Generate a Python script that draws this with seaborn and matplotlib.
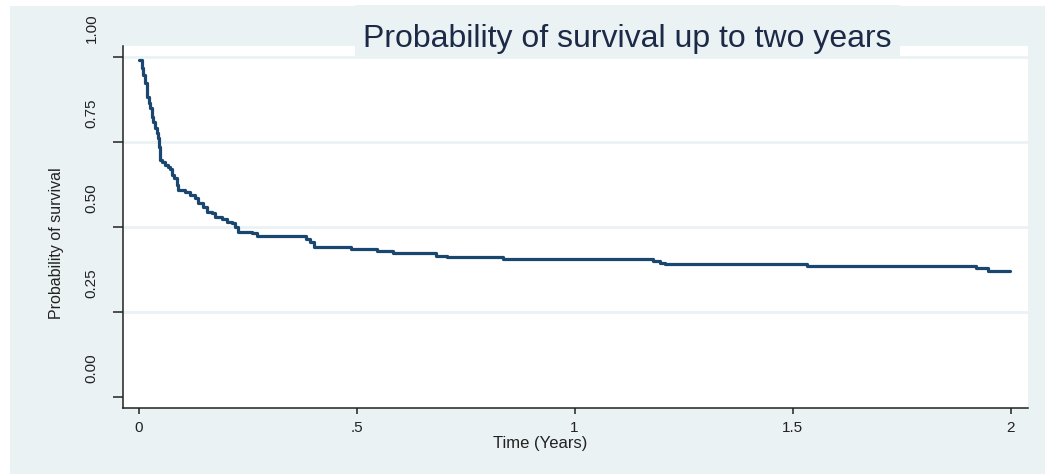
import matplotlib
matplotlib.use("Agg")
import matplotlib.pyplot as plt
import matplotlib.transforms as mtransforms
from matplotlib.patches import Rectangle
import seaborn as sns

# Kaplan-Meier estimate (time in years, survival after each drop)
time_years = [0.002, 0.007, 0.011, 0.015, 0.019, 0.023, 0.026, 0.030, 0.034, 0.038,
              0.042, 0.045, 0.048, 0.049, 0.053, 0.061, 0.068, 0.073, 0.076, 0.081,
              0.088, 0.091, 0.107, 0.118, 0.130, 0.137, 0.149, 0.156, 0.168, 0.176,
              0.191, 0.202, 0.214, 0.221, 0.228, 0.260, 0.271, 0.384, 0.393, 0.403,
              0.487, 0.548, 0.583, 0.682, 0.707, 0.837, 1.180, 1.196, 1.208, 1.534,
              1.921, 1.948, 1.999]
survival = [0.991, 0.967, 0.947, 0.923, 0.883, 0.864, 0.849, 0.824, 0.810, 0.790,
            0.776, 0.761, 0.736, 0.697, 0.691, 0.682, 0.677, 0.672, 0.653, 0.643,
            0.624, 0.609, 0.604, 0.594, 0.584, 0.570, 0.560, 0.545, 0.540, 0.529,
            0.523, 0.516, 0.511, 0.501, 0.486, 0.481, 0.473, 0.465, 0.457, 0.440,
            0.435, 0.429, 0.423, 0.416, 0.411, 0.405, 0.400, 0.395, 0.391, 0.385,
            0.379, 0.371, 0.371]

x_ticks = [0, 0.5, 1, 1.5, 2]
x_tick_labels = ["0", ".5", "1", "1.5", "2"]
y_ticks = [0, 0.25, 0.5, 0.75, 1.0]
y_tick_labels = ["0.00", "0.25", "0.50", "0.75", "1.00"]

BG = "#eaf2f3"
NAVY = "#1a476f"
INK = "#222222"

sns.set_style("white")
plt.rcParams["font.family"] = ["Liberation Sans", "DejaVu Sans"]

fig = plt.figure(figsize=(10.45, 4.74), dpi=100, facecolor="white")
fig.patches.append(Rectangle((10 / 1045, 0), 1, 1 - 6 / 474, transform=fig.transFigure,
                             facecolor=BG, edgecolor="none", zorder=-5))

ax = fig.add_axes([123 / 1045, 1 - 408 / 474, 905 / 1045, 362 / 474])
ax.set_facecolor("white")

sns.lineplot(x=time_years, y=survival, drawstyle="steps-post", color=NAVY,
             linewidth=2.3, ax=ax, sort=False)

ax.set_xlim(-0.0356, 2.040)
ax.set_ylim(-0.0324, 1.0324)

# grid lines at the upper ticks only
for yv in y_ticks[1:]:
    ax.axhline(yv, color=BG, linewidth=2, zorder=0)

ax.set_xticks(x_ticks)
ax.set_xticklabels(x_tick_labels)
ax.set_yticks(y_ticks)
ax.set_yticklabels(y_tick_labels, rotation=90, va="center")

for side in ["top", "right"]:
    ax.spines[side].set_visible(False)
for side in ["left", "bottom"]:
    ax.spines[side].set_color(INK)
    ax.spines[side].set_linewidth(1.1)

ax.tick_params(axis="x", bottom=True, direction="out", length=4, width=1.1,
               color=INK, pad=5, labelsize=11, labelcolor=INK)
ax.tick_params(axis="y", left=True, direction="out", length=7.5, width=1.1,
               color=INK, pad=10, labelsize=11, labelcolor=INK)

# y tick labels sit above their ticks in the original
offset = mtransforms.ScaledTranslation(0, 0.29, fig.dpi_scale_trans)
for lab in ax.get_yticklabels():
    lab.set_transform(lab.get_transform() + offset)

ax.set_xlabel("Time (Years)", fontsize=12, color=INK)
ax.xaxis.set_label_coords(0.461, -0.076)
ax.set_ylabel("Probability of survival", fontsize=11.5, color=INK)
ax.yaxis.set_label_coords(-0.065, 0.456)

# title with its own background box over the plot region
fig.patches.append(Rectangle((355 / 1045, 1 - 55.5 / 474), 545 / 1045, 50 / 474,
                             transform=fig.transFigure, facecolor=BG,
                             edgecolor="none", zorder=2))
fig.text(627 / 1045, 1 - 47.5 / 474, "Probability of survival up to two years",
         ha="center", va="baseline", fontsize=23, color="#1c2a48", zorder=3)

fig.savefig("out.png", dpi=100, facecolor="white")
